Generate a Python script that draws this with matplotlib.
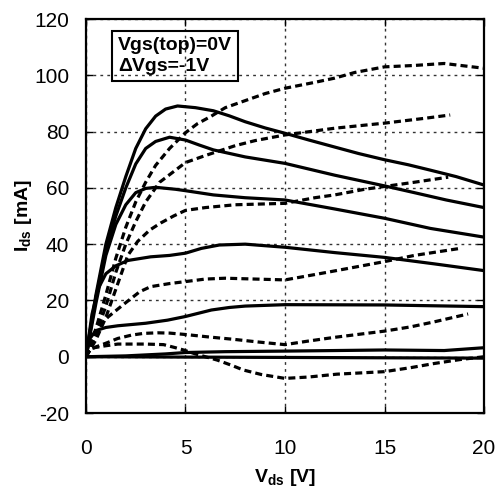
import matplotlib
matplotlib.use("Agg")
import matplotlib.pyplot as plt

plt.rcParams['font.family'] = ['Liberation Sans', 'DejaVu Sans']
plt.rcParams['axes.unicode_minus'] = False

# solid curves (Vds [V], Ids [mA])
s1_x = [0, 0.5, 1, 1.5, 2, 2.5, 3, 3.5, 4, 4.6, 5.5, 6.4, 7.2, 8, 9, 10, 11.2, 12.5, 13.7, 15, 16.2, 17.3, 18.6, 20]
s1_y = [0, 22, 40, 53, 64, 74, 81, 85.5, 88, 89.1, 88.5, 87.4, 85.6, 83.5, 81.3, 79.4, 77, 74.5, 72.2, 70, 68.2, 66.3, 64, 61]
s2_x = [0, 0.5, 1, 1.5, 2, 2.5, 3, 3.5, 4.2, 5, 5.7, 6.4, 8, 10, 12.5, 15, 16.5, 18.1, 20]
s2_y = [0, 21, 38, 50, 60, 68.5, 74, 76.5, 78, 77, 75.2, 73.5, 71, 68.7, 64.5, 60.7, 58.3, 55.7, 53]
s3_x = [0, 0.5, 1, 1.5, 2, 2.5, 3, 3.5, 4.5, 5, 6.4, 8, 10, 12.5, 15, 17.3, 20]
s3_y = [0, 19, 36, 47, 54, 58.3, 59.8, 60.2, 59.5, 59, 57.5, 56.5, 55.7, 52.5, 49.2, 45.6, 42.5]
s4_x = [0, 0.3, 0.6, 1, 1.5, 2.1, 3.25, 4.2, 5, 5.8, 6.7, 8, 10, 12.5, 15, 17.5, 20]
s4_y = [0, 15, 24, 29.5, 32.3, 34.2, 35.5, 36, 36.8, 38.5, 39.7, 40, 38.9, 37, 35.3, 33, 30.6]
s5_x = [0, 0.2, 0.5, 1, 1.6, 3, 4.1, 5, 6.3, 7.2, 8, 10, 15, 20]
s5_y = [0, 6.5, 9.3, 10.4, 11, 11.9, 13, 14.3, 16.6, 17.5, 18, 18.5, 18.4, 17.8]
s6_x = [0, 2, 4, 5, 7, 10, 15, 18, 20]
s6_y = [0, 0.3, 1, 1.5, 1.8, 2.0, 2.4, 2.2, 3.2]
s7_x = [0, 20]
s7_y = [0, -0.5]

# dashed curves
d1_x = [0, 0.5, 1, 1.5, 2, 2.5, 3, 3.5, 4.2, 5, 5.6, 6.3, 7, 8, 9, 10, 11.5, 12.5, 13.5, 15, 16.5, 18, 20]
d1_y = [0, 10, 22, 35, 46, 55, 62, 68, 74, 79.6, 82.8, 85.5, 88.5, 91, 93.5, 95.4, 97.5, 99, 101, 103, 103.5, 104.2, 102.5]
d2_x = [0, 0.5, 1, 1.5, 2, 2.5, 3, 3.7, 4.5, 5, 6, 7.5, 8.5, 10, 12.5, 15, 17, 18.3]
d2_y = [0, 8, 18, 30, 40, 48, 55, 62, 66.3, 69, 71.5, 75, 76.8, 78.8, 81.2, 83, 84.7, 85.9]
d3_x = [0, 0.5, 1, 1.5, 2.1, 2.6, 3.2, 3.75, 4.4, 5, 6, 7.5, 10, 11.5, 12.5, 14, 15, 16.5, 18.2]
d3_y = [0, 6, 14, 24, 36, 41, 45, 47.5, 50, 52, 53, 54, 54.5, 56.5, 57.5, 59.5, 60.5, 62, 63.8]
d4_x = [0, 0.4, 0.79, 1.12, 1.96, 2.7, 3.25, 4.2, 5, 6, 7, 8.5, 10, 11.5, 12.5, 15, 16.5, 18.8]
d4_y = [0, 8, 11.9, 14.2, 19, 23.1, 24.9, 26, 26.7, 27.6, 27.9, 27.6, 27.3, 29.2, 30.5, 33.8, 36, 38.5]
d5_x = [0, 0.2, 0.5, 1, 1.6, 2.3, 2.9, 3.6, 4.2, 5, 6.2, 7.4, 8.7, 10, 11.2, 12.5, 15, 16.3, 17.5, 19.2]
d5_y = [0, 2.5, 3.5, 4.8, 6.5, 7.7, 8.3, 8.5, 8.4, 7.9, 7, 6.2, 5.2, 4.3, 5.6, 6.9, 9.1, 10.6, 12.4, 15.2]
d6_x = [0, 0.25, 0.9, 1.6, 3, 3.9, 4.5, 4.9, 5.5, 6, 6.6, 7.3, 7.9, 8.8, 10, 11.2, 12.6, 15, 16.3, 17.5, 18.8, 20]
d6_y = [0, 3, 3.8, 4.5, 4.5, 4.3, 3.2, 2.4, 1.0, 0, -1.2, -3, -4.7, -6.3, -7.7, -7.2, -6.2, -5.3, -3.9, -2.4, -1, 0]

solid = [(s1_x, s1_y), (s2_x, s2_y), (s3_x, s3_y), (s4_x, s4_y),
         (s5_x, s5_y), (s6_x, s6_y), (s7_x, s7_y)]
dashed = [(d1_x, d1_y), (d2_x, d2_y), (d3_x, d3_y), (d4_x, d4_y),
          (d5_x, d5_y), (d6_x, d6_y)]

fig = plt.figure(figsize=(4.99, 4.90), dpi=100)
ax = fig.add_axes([0.1723, 0.1571, 0.7977, 0.8041])

for x, y in solid:
    ax.plot(x, y, color='black', lw=2.3, solid_joinstyle='round', solid_capstyle='round')
for x, y in dashed:
    ax.plot(x, y, color='black', lw=2.3, linestyle=(0, (2.2, 1.3)))

ax.set_xlim(0, 20)
ax.set_ylim(-20, 120)
ax.set_xticks([0, 5, 10, 15, 20])
ax.set_yticks([-20, 0, 20, 40, 60, 80, 100, 120])
ax.grid(True, color='#333333', lw=1.0, linestyle=(0, (2, 3)))
ax.tick_params(direction='in', length=5, width=1, top=True, right=True, labelsize=15)
ax.tick_params(axis='x', pad=19)
ax.tick_params(axis='y', pad=12)
for sp in ax.spines.values():
    sp.set_linewidth(1.6)

ax.set_xlabel(r'V$_\mathregular{ds}$ [V]', fontsize=14, fontweight='bold', labelpad=6)
ax.set_ylabel(r'I$_\mathregular{ds}$ [mA]', fontsize=14, fontweight='bold', labelpad=0)

ax.text(0.08, 0.955, 'Vgs(top)=0V\n\u0394Vgs=-1V', transform=ax.transAxes,
        fontsize=14, fontweight='bold', va='top', ha='left', linespacing=1.35,
        bbox=dict(boxstyle='square,pad=0.3', fc='none', ec='black', lw=1.5))

fig.savefig('out.png', dpi=100)
